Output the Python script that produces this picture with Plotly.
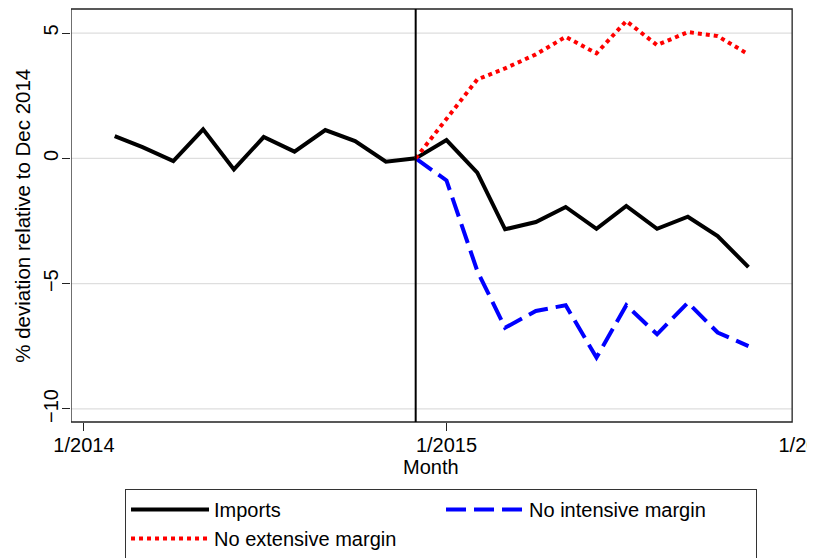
import plotly.graph_objects as go

# monthly data, % deviation relative to Dec 2014
months = ["2014-02-01", "2014-03-01", "2014-04-01", "2014-05-01", "2014-06-01",
          "2014-07-01", "2014-08-01", "2014-09-01", "2014-10-01", "2014-11-01",
          "2014-12-01", "2015-01-01", "2015-02-01", "2015-03-01", "2015-04-01",
          "2015-05-01", "2015-06-01", "2015-07-01", "2015-08-01", "2015-09-01",
          "2015-10-01", "2015-11-01"]
imports = [0.89, 0.45, -0.11, 1.16, -0.44, 0.85, 0.27, 1.13, 0.69, -0.13,
           0.0, 0.73, -0.57, -2.83, -2.54, -1.94, -2.81, -1.90, -2.81, -2.33,
           -3.10, -4.34]

cf_months = months[10:]
no_intensive = [0.0, -0.88, -4.49, -6.76, -6.09, -5.86, -7.95, -5.86, -7.02,
                -5.76, -6.95, -7.49]
no_extensive = [0.0, 1.56, 3.15, 3.59, 4.15, 4.85, 4.19, 5.48, 4.52, 5.04,
                4.88, 4.15]

x_ticks = ["2014-01-01", "2015-01-01", "2016-01-01"]
x_ticktext = ["1/2014", "1/2015", "1/2016"]
y_ticks = [-10, -5, 0, 5]
break_month = "2014-12-01"

x_left, x_frame_right, x_right = "2013-12-19", "2015-12-15", "2016-01-07"
y_range = [-10.52, 5.96]

FONT = "Liberation Sans, Arial, sans-serif"

fig = go.Figure()
fig.add_trace(go.Scatter(x=months, y=imports, mode="lines", name="Imports",
                         line=dict(color="black", width=4), legendrank=1))
fig.add_trace(go.Scatter(x=cf_months, y=no_intensive, mode="lines",
                         name="No intensive margin",
                         line=dict(color="#0000ff", width=4, dash="20px,8px"),
                         legendrank=2))
fig.add_trace(go.Scatter(x=cf_months, y=no_extensive, mode="lines",
                         name="No extensive margin",
                         line=dict(color="#ff0000", width=4, dash="dot"),
                         legendrank=3))

# grid lines stop at the frame, like the original
for v in y_ticks:
    fig.add_shape(type="line", xref="x", yref="y", x0=x_left, x1=x_frame_right,
                  y0=v, y1=v, line=dict(color="#dedede", width=1.2), layer="below")
# plot frame
fig.add_shape(type="rect", xref="x", yref="paper", x0=x_left, x1=x_frame_right,
              y0=0, y1=1, line=dict(color="#222222", width=1.3))
# December 2014 marker
fig.add_shape(type="line", xref="x", yref="paper", x0=break_month, x1=break_month,
              y0=0, y1=1, line=dict(color="black", width=2))

# axis titles, centred on the frame
fig.add_annotation(text="Month", xref="paper", yref="paper", x=0.4845, y=-0.11,
                   xanchor="center", yanchor="middle", showarrow=False,
                   font=dict(size=20))
fig.add_annotation(text="% deviation relative to Dec 2014", xref="paper",
                   yref="paper", x=-0.0655, y=0.5, textangle=-90,
                   xanchor="center", yanchor="middle", showarrow=False,
                   font=dict(size=20.5))

# the page adds an 8px body margin, so the figure is 8px smaller and shifted
fig.update_layout(
    width=807, height=550,
    margin=dict(l=63, r=0, t=1, b=136, autoexpand=False),
    paper_bgcolor="white", plot_bgcolor="white",
    font=dict(family=FONT, size=20, color="black"),
    showlegend=True,
    legend=dict(
        orientation="h", x=0.0726, y=-0.1622, xanchor="left", yanchor="top",
        bordercolor="#333333", borderwidth=1, bgcolor="white",
        entrywidth=222, itemwidth=78,
        font=dict(family=FONT, size=20, color="black"),
    ),
)
fig.update_xaxes(
    type="date", range=[x_left, x_right], automargin=False,
    tickvals=x_ticks, ticktext=x_ticktext, ticklabelstandoff=-3,
    ticklabeloverflow="allow",
    ticks="outside", ticklen=8, tickcolor="#222222", tickwidth=1,
    showgrid=False, showline=False, zeroline=False,
)
fig.update_yaxes(
    range=y_range, tickvals=y_ticks, tickangle=-90, automargin=False,
    ticklabelstandoff=-4,
    ticks="outside", ticklen=8, tickcolor="#222222", tickwidth=1,
    showgrid=False, showline=False, zeroline=False,
)

fig.write_html("out.html")
